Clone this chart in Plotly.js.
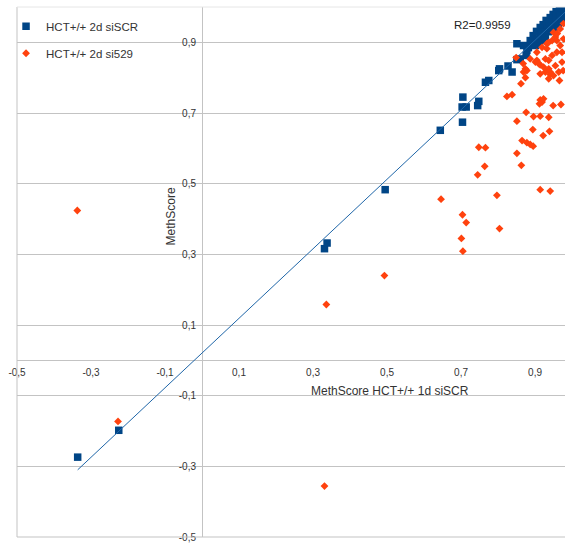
<!DOCTYPE html>
<html>
<head>
<meta charset="utf-8">
<script src="https://cdn.plot.ly/plotly-3.0.1.min.js"></script>
<style>html,body{margin:0;padding:0;background:#fff}#chart{width:565px;height:550px}</style>
</head>
<body>
<div id="chart"></div>
<script>
// Series 1: HCT+/+ 2d siSCR (x = MethScore HCT+/+ 1d siSCR)
var scrX = [-0.336,-0.225,0.331,0.338,0.495,0.644,0.704,0.703,0.714,0.705,0.748,0.745,0.766,0.775,0.802,0.804,0.838,0.827,0.851,0.860,0.851,0.869,0.878,0.876,
  0.882,0.887,0.895,0.895,0.901,0.904,0.906,0.914,0.914,0.920,0.922,0.925,0.930,0.933,0.936,0.941,0.941,0.944,0.949,0.949,0.952,0.957,0.957,0.960,0.963,0.966,0.968,0.971,0.974,0.976,0.976,0.979,0.981,
  0.909,0.928,0.918,0.938];
var scrY = [-0.274,-0.198,0.316,0.332,0.483,0.651,0.674,0.717,0.717,0.745,0.733,0.721,0.787,0.792,0.820,0.825,0.816,0.833,0.851,0.853,0.896,0.891,0.877,0.863,
  0.885,0.905,0.919,0.900,0.891,0.931,0.908,0.942,0.919,0.905,0.950,0.931,0.962,0.939,0.930,0.970,0.950,0.942,0.979,0.959,0.939,0.987,0.967,0.948,0.948,0.993,0.976,0.959,0.959,0.998,0.984,0.967,0.996,
  0.896,0.915,0.928,0.958];

// Series 2: HCT+/+ 2d si529
var si529X = [-0.337,-0.227,0.331,0.336,0.493,0.646,0.704,0.714,0.701,0.705,0.804,0.797,0.914,0.941,0.745,0.764,0.748,0.766,0.851,0.863,0.865,0.878,0.887,0.895,
  0.851,0.876,0.896,0.914,0.937,0.894,0.939,0.922,0.824,0.838,0.914,0.919,0.912,0.923,0.949,0.970,0.874,0.862,0.941,0.950,0.937,0.966,
  0.874,0.869,0.878,0.914,0.928,0.941,0.964,0.976,0.923,0.937,0.955,0.973,0.887,0.901,0.914,0.905,0.928,0.937,0.946,0.959,0.973,0.905,0.919,0.932,
  0.937,0.946,0.959,0.977,0.968,0.955,0.968,0.950,0.960,0.977,0.932,0.849,0.868,0.910];
var si529Y = [0.424,-0.173,-0.356,0.158,0.240,0.456,0.412,0.390,0.345,0.309,0.373,0.467,0.483,0.479,0.525,0.549,0.603,0.602,0.586,0.552,0.622,0.616,0.611,0.606,
  0.677,0.702,0.690,0.691,0.688,0.653,0.648,0.636,0.747,0.752,0.737,0.731,0.726,0.740,0.721,0.724,0.800,0.783,0.809,0.806,0.797,0.792,
  0.825,0.816,0.820,0.811,0.816,0.816,0.816,0.820,0.830,0.825,0.834,0.844,0.853,0.844,0.836,0.849,0.853,0.849,0.863,0.872,0.872,0.872,0.886,0.882,
  0.900,0.905,0.905,0.910,0.891,0.915,0.938,0.928,0.925,0.953,0.896,0.857,0.840,0.840];

var seriesNames = ['HCT+/+ 2d siSCR', 'HCT+/+ 2d si529'];
var r2Label = 'R2=0.9959';
var xTitle = 'MethScore HCT+/+ 1d siSCR';
var yTitle = 'MethScore';

var xTickVals = [-0.5,-0.3,-0.1,0.1,0.3,0.5,0.7,0.9];
var xTickLabels = ['-0,5','-0,3','-0,1','0,1','0,3','0,5','0,7','0,9'];
var yTickVals = [-0.5,-0.3,-0.1,0.1,0.3,0.5,0.7,0.9];
var yTickLabels = ['-0,5','-0,3','-0,1','0,1','0,3','0,5','0,7','0,9'];

// linear regression (trend line) of series 1
function linreg(xs, ys){
  var n = xs.length, sx=0, sy=0, sxx=0, sxy=0;
  for (var i=0;i<n;i++){ sx+=xs[i]; sy+=ys[i]; sxx+=xs[i]*xs[i]; sxy+=xs[i]*ys[i]; }
  var b = (n*sxy - sx*sy)/(n*sxx - sx*sx);
  var a = (sy - b*sx)/n;
  return {a:a, b:b};
}
var fit = linreg(scrX, scrY);
var xmin = Math.min.apply(null, scrX), xmax = Math.max.apply(null, scrX);
var trendX = [xmin, xmax];
var trendY = trendX.map(function(v){ return fit.a + fit.b*v; });

var BLUE = '#004586', ORANGE = '#ff420e', GRID = '#c3c3c3';
var FONT = 'Liberation Sans, Arial, sans-serif';

var traces = [
  {x: scrX, y: scrY, type:'scatter', mode:'markers', name: seriesNames[0], legendgroup:'a',
   marker:{symbol:'square', size:7.5, color:BLUE}},
  {x: trendX, y: trendY, type:'scatter', mode:'lines', showlegend:false, hoverinfo:'skip',
   line:{color:'#1f66a8', width:1}},
  {x: si529X, y: si529Y, type:'scatter', mode:'markers', name: seriesNames[1], legendgroup:'b',
   marker:{symbol:'diamond', size:6, color:ORANGE}}
];

var xr = [-0.5, 0.981], yr = [-0.5, 1.0];
var layout = {
  width:565, height:550,
  margin:{l:17, r:0, t:7, b:13, pad:0},
  paper_bgcolor:'#ffffff', plot_bgcolor:'#ffffff',
  font:{family:FONT, color:'#333333', size:10},
  showlegend:true,
  legend:{x:-0.02, y:0.991, xanchor:'left', yanchor:'top', bgcolor:'rgba(0,0,0,0)',
          traceorder:'grouped', tracegroupgap:8, font:{size:11.5, color:'#333333'}},
  xaxis:{range:xr, anchor:'free', position:(0-yr[0])/(yr[1]-yr[0]),
         tickvals:xTickVals, ticktext:xTickLabels, ticks:'outside', ticklen:3, tickcolor:'rgba(0,0,0,0)',
         showgrid:false, zeroline:true, zerolinecolor:GRID, zerolinewidth:1, showline:false,
         tickfont:{size:10, color:'#333333'}, fixedrange:true},
  yaxis:{range:yr, anchor:'free', position:(0-xr[0])/(xr[1]-xr[0]),
         tickvals:yTickVals, ticktext:yTickLabels, ticks:'outside', ticklen:4, tickcolor:'rgba(0,0,0,0)',
         showgrid:true, gridcolor:GRID, gridwidth:1, zeroline:true, zerolinecolor:GRID, zerolinewidth:1, showline:false,
         tickfont:{size:10, color:'#333333'}, fixedrange:true},
  shapes:[
    {type:'line', xref:'paper', yref:'paper', x0:0, x1:0, y0:0, y1:1, line:{color:GRID, width:1}},
    {type:'line', xref:'paper', yref:'paper', x0:0, x1:1, y0:1, y1:1, line:{color:'#e6e6e6', width:1}},
    {type:'line', xref:'paper', yref:'paper', x0:0, x1:1, y0:0, y1:0, line:{color:GRID, width:1}}
  ],
  annotations:[
    {text:r2Label, xref:'x', yref:'y', x:0.758, y:0.948, showarrow:false, font:{size:11.5, color:'#222222'}},
    {text:xTitle, xref:'x', yref:'y', x:0.507, y:-0.088, showarrow:false, font:{size:12, color:'#333333'}},
    {text:yTitle, xref:'x', yref:'y', x:-0.084, y:0.407, textangle:-90, showarrow:false, font:{size:12, color:'#333333'}}
  ]
};

Plotly.newPlot('chart', traces, layout, {displayModeBar:false, staticPlot:true});
</script>
</body>
</html>
